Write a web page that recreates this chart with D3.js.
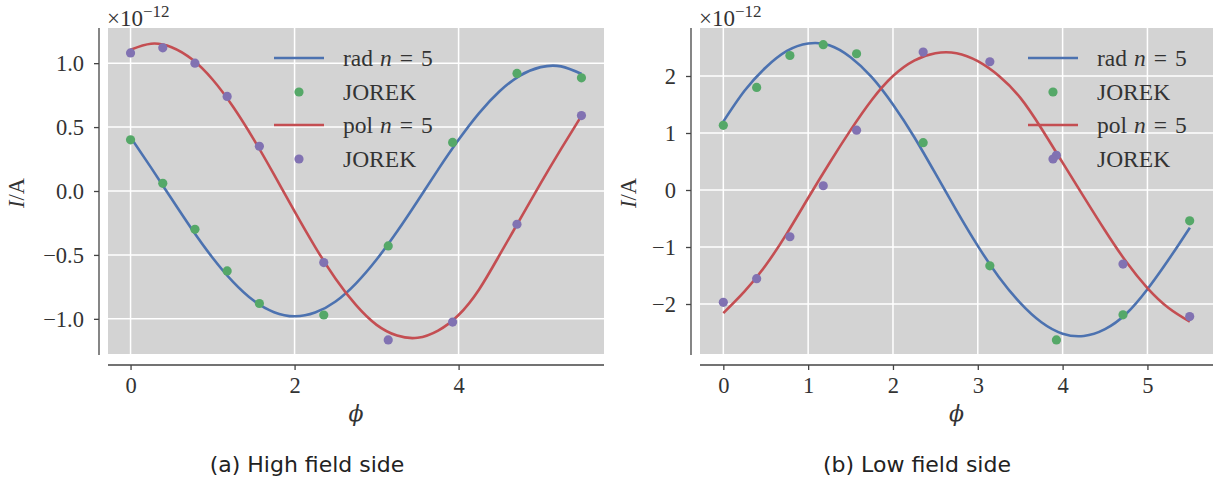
<!DOCTYPE html>
<html>
<head>
<meta charset="utf-8">
<script src="https://cdn.jsdelivr.net/npm/d3@7"></script>
<style>
  body { margin: 0; background: #fff; }
  svg text { font-family: "Liberation Serif", "DejaVu Serif", serif; fill: #333; }
  .caption { font-family: "DejaVu Sans", "Open Sans", sans-serif !important; fill: #222 !important; }
</style>
</head>
<body>
<svg id="fig" width="1217" height="484"></svg>
<script>
// --- data (values in units of 1e-12 A) ---
const phiCurve = [0, 0.25, 0.5, 0.75, 1.0, 1.25, 1.5, 1.75, 2.0, 2.25, 2.5, 2.75,
  3.0, 3.25, 3.5, 3.75, 4.0, 4.25, 4.5, 4.75, 5.0, 5.25, 5.5];
const phiJorek = [0, 0.393, 0.785, 1.178, 1.571, 2.356, 3.142, 3.927, 4.712, 5.498];

// (a) high field side
const hfsRad = [0.42, 0.183, -0.061, -0.301, -0.522, -0.711, -0.857, -0.948, -0.98, -0.951,
  -0.864, -0.722, -0.536, -0.317, -0.078, 0.167, 0.40, 0.609, 0.78, 0.903, 0.969, 0.975, 0.915];
const hfsPol = [1.105, 1.152, 1.125, 1.03, 0.872, 0.659, 0.406, 0.128, -0.16, -0.437,
  -0.686, -0.893, -1.047, -1.131, -1.148, -1.092, -0.97, -0.77, -0.50, -0.22, 0.06, 0.33, 0.59];
const hfsRadJorek = [0.40, 0.06, -0.30, -0.625, -0.88, -0.97, -0.43, 0.38, 0.92, 0.885];
const hfsPolJorek = [1.08, 1.12, 1.00, 0.74, 0.35, -0.56, -1.165, -1.025, -0.26, 0.59];

// (b) low field side
const lfsRad = [1.20, 1.74, 2.15, 2.44, 2.57, 2.54, 2.33, 1.98, 1.50, 0.93, 0.29, -0.36,
  -0.98, -1.53, -1.98, -2.32, -2.52, -2.56, -2.44, -2.17, -1.74, -1.22, -0.66];
const lfsPol = [-2.16, -1.78, -1.32, -0.76, -0.14, 0.47, 1.05, 1.58, 2.0, 2.27, 2.40, 2.40,
  2.26, 2.0, 1.62, 1.08, 0.48, -0.12, -0.71, -1.26, -1.72, -2.07, -2.31];
const lfsRadJorek = [1.135, 1.80, 2.36, 2.55, 2.39, 0.83, -1.33, -2.63, -2.19, -0.54];
const lfsPolJorek = [-1.97, -1.556, -0.82, 0.075, 1.05, 2.42, 2.25, 0.61, -1.30, -2.22];

const hfsXTicks = [0, 2, 4];
const hfsYTicks = [-1.0, -0.5, 0.0, 0.5, 1.0];
const lfsXTicks = [0, 1, 2, 3, 4, 5];
const lfsYTicks = [-2, -1, 0, 1, 2];

const legendLabels = ["rad", "JOREK", "pol", "JOREK"];
const captions = ["(a) High field side", "(b) Low field side"];

// seaborn "deep" colours
const BLUE = "#4c72b0", GREEN = "#55a868", RED = "#c44e52", PURPLE = "#8172b2";
const FS = "22.5px";

const svg = d3.select("#fig");

function drawPanel(p) {
  const x = d3.scaleLinear().domain(p.xDomain).range([p.left, p.right]);
  const y = d3.scaleLinear().domain(p.yDomain).range([p.bottom, p.top]);
  const g = svg.append("g");

  // background + grid
  g.append("rect")
    .attr("x", p.left).attr("y", p.top)
    .attr("width", p.right - p.left).attr("height", p.bottom - p.top)
    .attr("fill", "#d3d3d3");

  g.selectAll(".gx").data(p.xTicks).enter().append("line")
    .attr("x1", d => x(d)).attr("x2", d => x(d))
    .attr("y1", p.top).attr("y2", p.bottom)
    .attr("stroke", "#fff").attr("stroke-width", 1.5);
  g.selectAll(".gy").data(p.yTicks).enter().append("line")
    .attr("y1", d => y(d)).attr("y2", d => y(d))
    .attr("x1", p.left).attr("x2", p.right)
    .attr("stroke", "#fff").attr("stroke-width", 1.5);

  // offset axes (despined)
  const fmt = p.yFormat;
  const xAxis = d3.axisBottom(x).tickValues(p.xTicks).tickSize(5).tickPadding(7)
    .tickFormat(d3.format("d"));
  const yAxis = d3.axisLeft(y).tickValues(p.yTicks).tickSize(5).tickPadding(10)
    .tickFormat(d => fmt(d).replace("-", "\u2212"));

  const gx = g.append("g").attr("transform", `translate(0,${p.bottom + 11})`).call(xAxis);
  const gy = g.append("g").attr("transform", `translate(${p.left - 9},0)`).call(yAxis);
  [gx, gy].forEach(a => {
    a.select(".domain").attr("stroke", "#444").attr("stroke-width", 1.3);
    a.selectAll(".tick line").attr("stroke", "#444").attr("stroke-width", 1.3);
    a.selectAll("text").style("font-size", FS).attr("fill", "#333")
      .style("font-family", '"Liberation Serif", serif');
  });
  gx.select(".domain").attr("d", `M${p.left},0H${p.right}`);
  gy.select(".domain").attr("d", `M0,${p.top}V${p.bottom + 1}`);

  // curves
  const line = d3.line().x((d, i) => x(phiCurve[i])).y(d => y(d)).curve(d3.curveNatural);
  g.append("path").attr("d", line(p.rad)).attr("fill", "none")
    .attr("stroke", BLUE).attr("stroke-width", 2.6);
  g.append("path").attr("d", line(p.pol)).attr("fill", "none")
    .attr("stroke", RED).attr("stroke-width", 2.6);

  g.selectAll(".dr").data(p.radJ).enter().append("circle")
    .attr("cx", (d, i) => x(phiJorek[i])).attr("cy", d => y(d)).attr("r", 4.6)
    .attr("fill", GREEN);
  g.selectAll(".dp").data(p.polJ).enter().append("circle")
    .attr("cx", (d, i) => x(phiJorek[i])).attr("cy", d => y(d)).attr("r", 4.6)
    .attr("fill", PURPLE);

  // legend
  const rows = [58, 92, 125, 159];
  const kinds = [["line", BLUE], ["dot", GREEN], ["line", RED], ["dot", PURPLE]];
  rows.forEach((ry, i) => {
    const [kind, col] = kinds[i];
    if (kind === "line") {
      g.append("line").attr("x1", p.legX).attr("x2", p.legX + 50)
        .attr("y1", ry).attr("y2", ry).attr("stroke", col).attr("stroke-width", 2.6);
    } else {
      g.append("circle").attr("cx", p.legX + 25).attr("cy", ry).attr("r", 4.6).attr("fill", col);
    }
    const t = g.append("text").attr("x", p.legX + 69).attr("y", ry + 8).style("font-size", "23.5px");
    t.append("tspan").text(legendLabels[i]);
    if (kind === "line") {
      t.append("tspan").text("n").attr("dx", 7).style("font-style", "italic");
      t.append("tspan").text("=").attr("dx", 8);
      t.append("tspan").text("5").attr("dx", 8);
    }
  });

  // offset text
  const off = g.append("text").attr("x", p.left - 1).attr("y", 26).style("font-size", "23px");
  off.append("tspan").text("\u00d710");
  off.append("tspan").text("\u221212").attr("dy", -9).style("font-size", "17px");

  // axis labels
  const yl = g.append("text")
    .attr("transform", `translate(${p.ylabX},193) rotate(-90)`)
    .attr("text-anchor", "middle").style("font-size", FS);
  yl.append("tspan").text("I").style("font-style", "italic");
  yl.append("tspan").text("/A");

  g.append("text").attr("x", x(p.xlabAt)).attr("y", 421).attr("text-anchor", "middle")
    .style("font-size", "22px").style("font-style", "italic")
    .style("font-family", '"DejaVu Serif", serif').text("\u03d5");

  g.append("text").attr("class", "caption").attr("x", p.capX).attr("y", 472)
    .attr("text-anchor", "middle").style("font-size", "22px").text(p.caption);
}

drawPanel({
  left: 108, right: 604, top: 28, bottom: 354,
  xDomain: [-0.275, 5.773], yDomain: [-1.275, 1.275],
  xTicks: hfsXTicks, yTicks: hfsYTicks, yFormat: d3.format(".1f"),
  rad: hfsRad, pol: hfsPol, radJ: hfsRadJorek, polJ: hfsPolJorek,
  legX: 274, ylabX: 24, xlabAt: 2.75, capX: 307, caption: captions[0]
});

drawPanel({
  left: 700, right: 1213, top: 28, bottom: 354,
  xDomain: [-0.275, 5.773], yDomain: [-2.877, 2.842],
  xTicks: lfsXTicks, yTicks: lfsYTicks, yFormat: d3.format("d"),
  rad: lfsRad, pol: lfsPol, radJ: lfsRadJorek, polJ: lfsPolJorek,
  legX: 1028, ylabX: 636, xlabAt: 2.75, capX: 917, caption: captions[1]
});
</script>
</body>
</html>
